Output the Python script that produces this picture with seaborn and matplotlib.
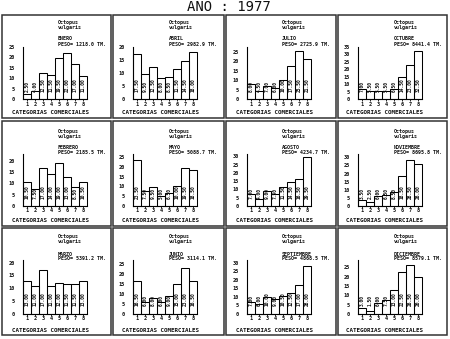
import matplotlib
matplotlib.use("Agg")
import matplotlib.pyplot as plt
import matplotlib.transforms as mtransforms
from matplotlib.patches import Rectangle
import seaborn as sns
import pandas as pd

sns.set_theme(style="white")
plt.rcParams['font.family'] = ['DejaVu Sans Mono', 'DejaVu Sans']

# ---------------- data ----------------
title = "AÑO : 1977"
species = "Octopus\nvulgaris"
xlabel_text = "CATEGORIAS COMERCIALES"
categories = ["1", "2", "3", "4", "5", "6", "7", "8"]

months = ["ENERO", "ABRIL", "JULIO", "OCTUBRE",
          "FEBRERO", "MAYO", "AGOSTO", "NOVIEMBRE",
          "MARZO", "JUNIO", "SEPTIEMBRE", "DICIEMBRE"]
pesos = ["1218.0", "2982.9", "2725.9", "8441.4",
         "2185.5", "5088.7", "4234.7", "8695.8",
         "5391.2", "3114.1", "4868.5", "8579.1"]

enero = [2.5, 4.0, 12.5, 11.5, 19.5, 22.0, 17.0, 11.0]
abril = [17.5, 9.5, 12.5, 8.0, 8.5, 11.5, 14.5, 18.0]
julio = [8.0, 4.5, 7.0, 6.0, 10.0, 17.5, 25.5, 21.5]
octubre = [7.0, 5.5, 5.5, 5.5, 6.5, 14.5, 23.0, 32.5]
febrero = [10.5, 7.5, 17.0, 14.0, 19.0, 13.0, 8.5, 10.5]
mayo = [23.5, 7.5, 9.5, 5.0, 6.5, 10.0, 19.5, 18.5]
agosto = [7.0, 4.0, 9.0, 7.5, 11.5, 14.5, 16.5, 29.5]
noviembre = [3.5, 2.5, 6.0, 6.5, 8.5, 18.5, 28.5, 26.0]
marzo = [13.0, 11.0, 17.0, 11.0, 12.0, 11.5, 11.5, 13.0]
junio = [16.5, 6.0, 8.0, 6.0, 9.0, 15.0, 23.0, 16.5]
septiembre = [7.0, 6.0, 10.0, 9.0, 10.5, 12.5, 17.0, 28.0]
diciembre = [3.0, 1.5, 6.0, 7.5, 13.0, 22.5, 26.5, 20.0]

series = [enero, abril, julio, octubre,
          febrero, mayo, agosto, noviembre,
          marzo, junio, septiembre, diciembre]
tick_max = [25, 20, 25, 35, 20, 25, 30, 30, 20, 25, 30, 25]

# ---------------- layout (pixels) ----------------
W, H = 450, 339
ylim_top = [25, 20, 27.7, 35, 23, 26.5, 31.5, 32, 21, 27, 31.5, 29]
box_x = [(2, 111), (113, 224), (226, 336), (338, 447)]
box_y = [(15, 118), (121, 226), (228, 335)]
ax_left = [23, 133, 247, 358]
ax_w = 64
zero_y = [99, 206, 314]
top_y = [47, 154, 260]
txt_y = [(25, 39, 45), (134, 148, 153), (239, 254, 259)]
xl_y = [113, 221, 331]

fig = plt.figure(figsize=(W / 100, H / 100), dpi=100)
fig.patch.set_facecolor("white")

def fx(px):
    return px / W

def fy(py):
    return 1 - py / H

fig.text(fx(229), fy(7), title, ha="center", va="center", fontsize=10,
         color="#111111")

for k, vals in enumerate(series):
    r, c = divmod(k, 4)
    x0, x1 = box_x[c]
    y0, y1 = box_y[r]
    fig.patches.append(Rectangle((fx(x0), fy(y1)), fx(x1 - x0), (y1 - y0) / H,
                                 transform=fig.transFigure, fill=False,
                                 edgecolor="#333333", linewidth=1.1))
    ax = fig.add_axes([fx(ax_left[c]), fy(zero_y[r]), fx(ax_w),
                       (zero_y[r] - top_y[r]) / H])
    df = pd.DataFrame({"cat": categories, "val": vals})
    sns.barplot(data=df, x="cat", y="val", ax=ax, color="black", fill=False,
                linewidth=0.75, width=1.0, saturation=1)
    for p in ax.patches:
        p.set_clip_on(False)
    ax.set_facecolor("none")
    ax.set_xlim(-0.5, 7.5)
    ax.set_ylim(0, ylim_top[k])
    ax.set_yticks(list(range(0, tick_max[k] + 1, 5)))
    ax.set_xlabel("")
    ax.set_ylabel("")
    for s in ["top", "right"]:
        ax.spines[s].set_visible(False)
    for s in ["left", "bottom"]:
        ax.spines[s].set_color("black")
        ax.spines[s].set_linewidth(0.8)
    ax.tick_params(axis="y", length=0, pad=6, labelsize=3.8)
    ax.tick_params(axis="x", length=1.2, width=0.6, pad=0.6, labelsize=3.8,
                   color="black", bottom=True)
    for lab in ax.get_xticklabels() + ax.get_yticklabels():
        lab.set_fontweight("bold")
        lab.set_color("#111111")
    trans = mtransforms.blended_transform_factory(ax.transData, ax.transAxes)
    for i, v in enumerate(vals):
        ax.text(i, 0.14, f"{v:.2f}", transform=trans, rotation=90,
                ha="center", va="bottom", fontsize=3.3, fontweight="bold",
                color="#111111")
    tx = x0 + 56
    oy, my, py = txt_y[r]
    fig.text(fx(tx), fy(oy), species, ha="left", va="center", fontsize=3.6,
             fontweight="bold", linespacing=1.2, color="#111111")
    fig.text(fx(tx), fy(my), months[k], ha="left", va="center", fontsize=3.6,
             fontweight="bold", color="#111111")
    fig.text(fx(tx), fy(py), f"PESO= {pesos[k]} TM.", ha="left", va="center",
             fontsize=3.6, fontweight="bold", color="#111111")
    fig.text(fx(ax_left[c] + ax_w / 2 - 5), fy(xl_y[r]), xlabel_text,
             ha="center", va="center", fontsize=4.2, fontweight="bold",
             color="#111111")

fig.savefig("out.png", dpi=100, facecolor="white")
